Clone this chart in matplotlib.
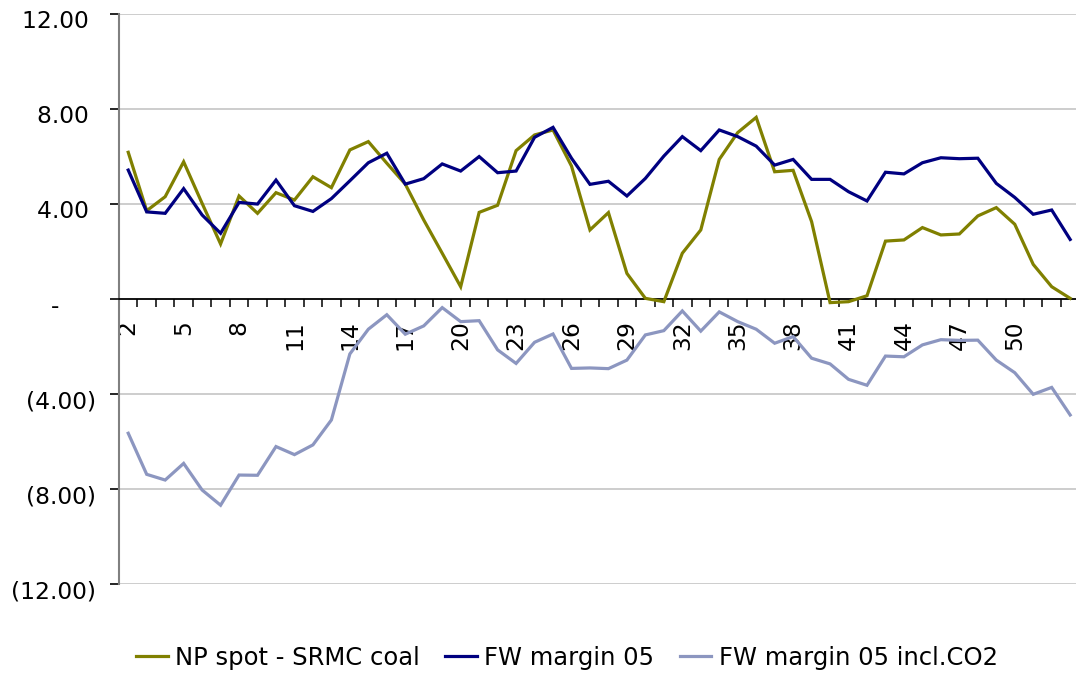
import matplotlib
matplotlib.use("Agg")
import matplotlib.pyplot as plt
import matplotlib.transforms as mtransforms
from matplotlib.ticker import FixedLocator, FuncFormatter

plt.rcParams["font.family"] = ["DejaVu Sans"]

# week numbers and the three weekly series
weeks = list(range(2, 54))

np_spot = [
    6.19, 3.73, 4.32, 5.79, 4.04, 2.33, 4.35, 3.62, 4.49, 4.18,
    5.16, 4.70, 6.29, 6.64, 5.73, 4.85, 3.34, 1.94, 0.53, 3.66,
    3.96, 6.26, 6.92, 7.13, 5.61, 2.92, 3.65, 1.09, 0.04, -0.10,
    1.94, 2.92, 5.89, 7.02, 7.66, 5.37, 5.43, 3.27, -0.14, -0.10,
    0.15, 2.45, 2.50, 3.02, 2.71, 2.75, 3.51, 3.86, 3.16, 1.47,
    0.53, 0.04,
]

fw_margin = [
    5.44, 3.68, 3.62, 4.66, 3.55, 2.78, 4.08, 4.01, 5.02, 3.94,
    3.70, 4.24, 4.99, 5.75, 6.15, 4.85, 5.08, 5.70, 5.40, 6.01,
    5.33, 5.40, 6.82, 7.24, 5.94, 4.84, 4.97, 4.35, 5.09, 6.03,
    6.85, 6.26, 7.13, 6.85, 6.45, 5.65, 5.89, 5.05, 5.05, 4.53,
    4.14, 5.35, 5.28, 5.75, 5.96, 5.92, 5.94, 4.88, 4.29, 3.58,
    3.76, 2.52,
]

fw_margin_co2 = [
    -5.64, -7.37, -7.61, -6.91, -8.03, -8.67, -7.40, -7.41, -6.20, -6.54,
    -6.13, -5.08, -2.30, -1.26, -0.65, -1.47, -1.12, -0.35, -0.94, -0.90,
    -2.13, -2.70, -1.81, -1.46, -2.91, -2.89, -2.92, -2.56, -1.50, -1.32,
    -0.49, -1.34, -0.53, -0.94, -1.26, -1.85, -1.57, -2.48, -2.72, -3.37,
    -3.62, -2.39, -2.42, -1.92, -1.70, -1.73, -1.72, -2.56, -3.09, -4.00,
    -3.71, -4.87,
]

labels = ["NP spot - SRMC coal", "FW margin 05", "FW margin 05 incl.CO2"]
colors = ["#808000", "#000080", "#8C96C0"]
y_ticks = [-12, -8, -4, 0, 4, 8, 12]
x_label_weeks = list(range(2, 51, 3))


def fmt_value(v, pos=None):
    if abs(v) < 1e-9:
        return "-     "
    if v < 0:
        return f"({abs(v):.2f})"
    return f"{v:.2f} "


fig = plt.figure(figsize=(10.76, 6.75), dpi=100)
ax = fig.add_axes([119 / 1076, 1 - 584.3 / 675, 960.4 / 1076, 570 / 675])

for series, lab, col in zip([np_spot, fw_margin, fw_margin_co2], labels, colors):
    ax.plot(weeks, series, color=col, lw=2.3, label=lab, solid_joinstyle="miter", zorder=3)

ax.set_xlim(weeks[0] - 0.5, weeks[-1] + 0.5)
ax.set_ylim(-12, 12)

# y axis
ax.yaxis.set_major_locator(FixedLocator(y_ticks))
ax.yaxis.set_major_formatter(FuncFormatter(fmt_value))
ax.tick_params(axis="y", direction="out", length=6.5, width=1.2, color="#000000",
               labelsize=16.8, pad=10)
offset = mtransforms.ScaledTranslation(0, -5 / 100, fig.dpi_scale_trans)
for lbl in ax.get_yticklabels():
    lbl.set_transform(lbl.get_transform() + offset)
for y in y_ticks:
    if y != 0:
        ax.axhline(y, color="#c0c0c0", lw=1.1, zorder=1)

# x axis through zero, category-style tick marks between weeks
ax.spines["bottom"].set_position(("data", 0))
ax.spines["bottom"].set_color("#000000")
ax.spines["bottom"].set_linewidth(1.3)
ax.spines["left"].set_color("#808080")
ax.spines["left"].set_linewidth(1.5)
ax.spines["top"].set_visible(False)
ax.spines["right"].set_visible(False)

ax.xaxis.set_major_locator(FixedLocator(x_label_weeks))
ax.xaxis.set_major_formatter(FuncFormatter(lambda v, p: f"{int(v)}"))
ax.xaxis.set_minor_locator(FixedLocator([w + 0.5 for w in [weeks[0] - 1] + weeks]))
ax.tick_params(axis="x", which="major", length=0, labelsize=16.8, pad=15,
               labelrotation=90)
ax.tick_params(axis="x", which="minor", direction="out", length=6, width=1.1,
               color="#000000")
for lbl in ax.get_xticklabels():
    lbl.set_verticalalignment("top")

ax.legend(loc="center", bbox_to_anchor=(567 / 1076, 17 / 675),
          bbox_transform=fig.transFigure, ncol=3, frameon=False,
          fontsize=17.5, handlelength=1.3, handletextpad=0.3,
          columnspacing=1.05)

fig.savefig("out.png", dpi=100)
